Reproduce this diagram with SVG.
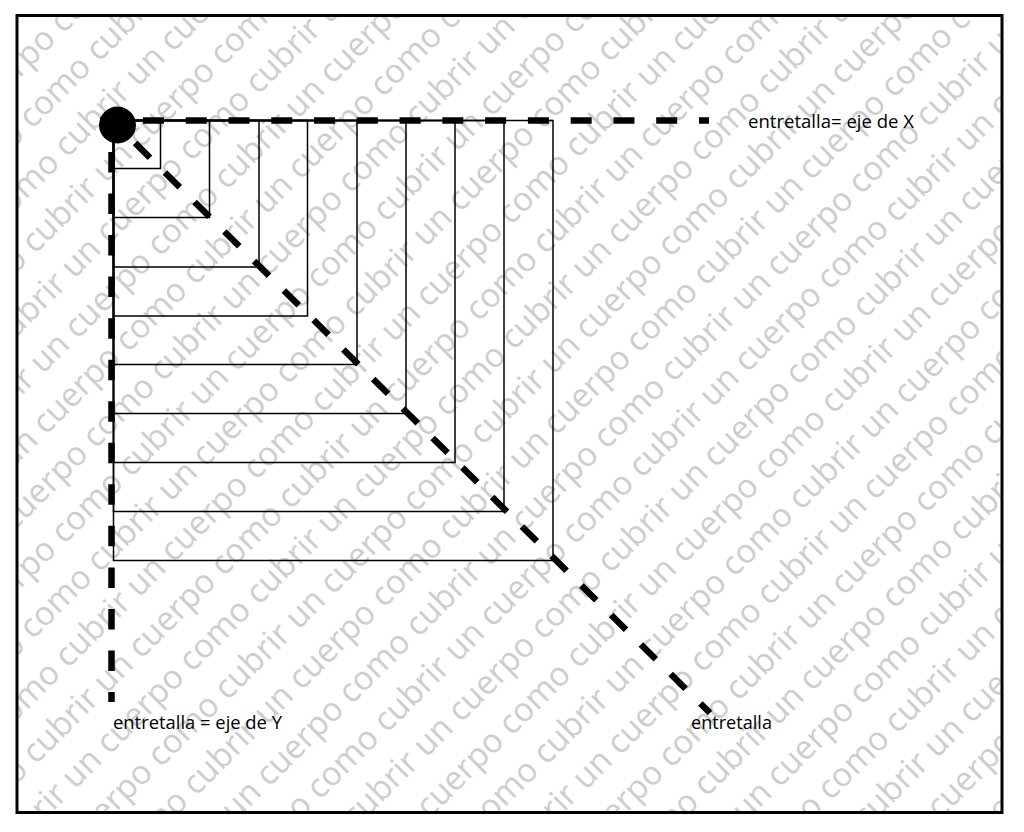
<svg xmlns="http://www.w3.org/2000/svg" width="1024" height="832" viewBox="0 0 1024 832">
<style>
.wm{font-family:"Open Sans","DejaVu Sans",sans-serif;font-size:33px;fill:#cdcdcd}
.sq{fill:none;stroke:#000;stroke-width:1.5}
.ax{fill:none;stroke:#000;stroke-width:6.5}
.lbl{font-family:"Open Sans","Liberation Sans",sans-serif;font-size:18px;fill:#000}
</style>
<defs>
<clipPath id="inner"><rect x="17" y="15.5" width="985" height="797"/></clipPath>
</defs>
<rect x="0" y="0" width="1024" height="832" fill="#fff"/>
<g id="watermark" clip-path="url(#inner)">
<g transform="rotate(-45)">
<text class="wm" x="-971" y="24">como cubrir un cuerpo como cubrir un cuerpo como cubrir un cuerpo como cubrir un cuerpo como cubrir un cuerpo como cubrir un cuerpo</text>
<text class="wm" x="-1061" y="69.2">como cubrir un cuerpo como cubrir un cuerpo como cubrir un cuerpo como cubrir un cuerpo como cubrir un cuerpo como cubrir un cuerpo</text>
<text class="wm" x="-790" y="114.4">como cubrir un cuerpo como cubrir un cuerpo como cubrir un cuerpo como cubrir un cuerpo como cubrir un cuerpo como cubrir un cuerpo</text>
<text class="wm" x="-880" y="159.6">como cubrir un cuerpo como cubrir un cuerpo como cubrir un cuerpo como cubrir un cuerpo como cubrir un cuerpo como cubrir un cuerpo</text>
<text class="wm" x="-971" y="204.8">como cubrir un cuerpo como cubrir un cuerpo como cubrir un cuerpo como cubrir un cuerpo como cubrir un cuerpo como cubrir un cuerpo</text>
<text class="wm" x="-1061" y="250">como cubrir un cuerpo como cubrir un cuerpo como cubrir un cuerpo como cubrir un cuerpo como cubrir un cuerpo como cubrir un cuerpo</text>
<text class="wm" x="-790" y="295.2">como cubrir un cuerpo como cubrir un cuerpo como cubrir un cuerpo como cubrir un cuerpo como cubrir un cuerpo como cubrir un cuerpo</text>
<text class="wm" x="-880" y="340.4">como cubrir un cuerpo como cubrir un cuerpo como cubrir un cuerpo como cubrir un cuerpo como cubrir un cuerpo como cubrir un cuerpo</text>
<text class="wm" x="-971" y="385.6">como cubrir un cuerpo como cubrir un cuerpo como cubrir un cuerpo como cubrir un cuerpo como cubrir un cuerpo como cubrir un cuerpo</text>
<text class="wm" x="-1061" y="430.8">como cubrir un cuerpo como cubrir un cuerpo como cubrir un cuerpo como cubrir un cuerpo como cubrir un cuerpo como cubrir un cuerpo</text>
<text class="wm" x="-790" y="476">como cubrir un cuerpo como cubrir un cuerpo como cubrir un cuerpo como cubrir un cuerpo como cubrir un cuerpo como cubrir un cuerpo</text>
<text class="wm" x="-880" y="521.2">como cubrir un cuerpo como cubrir un cuerpo como cubrir un cuerpo como cubrir un cuerpo como cubrir un cuerpo como cubrir un cuerpo</text>
<text class="wm" x="-971" y="566.4">como cubrir un cuerpo como cubrir un cuerpo como cubrir un cuerpo como cubrir un cuerpo como cubrir un cuerpo como cubrir un cuerpo</text>
<text class="wm" x="-1061" y="611.6">como cubrir un cuerpo como cubrir un cuerpo como cubrir un cuerpo como cubrir un cuerpo como cubrir un cuerpo como cubrir un cuerpo</text>
<text class="wm" x="-790" y="656.8">como cubrir un cuerpo como cubrir un cuerpo como cubrir un cuerpo como cubrir un cuerpo como cubrir un cuerpo como cubrir un cuerpo</text>
<text class="wm" x="-880" y="702">como cubrir un cuerpo como cubrir un cuerpo como cubrir un cuerpo como cubrir un cuerpo como cubrir un cuerpo como cubrir un cuerpo</text>
<text class="wm" x="-971" y="747.2">como cubrir un cuerpo como cubrir un cuerpo como cubrir un cuerpo como cubrir un cuerpo como cubrir un cuerpo como cubrir un cuerpo</text>
<text class="wm" x="-1061" y="792.4">como cubrir un cuerpo como cubrir un cuerpo como cubrir un cuerpo como cubrir un cuerpo como cubrir un cuerpo como cubrir un cuerpo</text>
<text class="wm" x="-790" y="837.6">como cubrir un cuerpo como cubrir un cuerpo como cubrir un cuerpo como cubrir un cuerpo como cubrir un cuerpo como cubrir un cuerpo</text>
<text class="wm" x="-880" y="882.8">como cubrir un cuerpo como cubrir un cuerpo como cubrir un cuerpo como cubrir un cuerpo como cubrir un cuerpo como cubrir un cuerpo</text>
<text class="wm" x="-971" y="928">como cubrir un cuerpo como cubrir un cuerpo como cubrir un cuerpo como cubrir un cuerpo como cubrir un cuerpo como cubrir un cuerpo</text>
<text class="wm" x="-1061" y="973.2">como cubrir un cuerpo como cubrir un cuerpo como cubrir un cuerpo como cubrir un cuerpo como cubrir un cuerpo como cubrir un cuerpo</text>
<text class="wm" x="-790" y="1018.4">como cubrir un cuerpo como cubrir un cuerpo como cubrir un cuerpo como cubrir un cuerpo como cubrir un cuerpo como cubrir un cuerpo</text>
<text class="wm" x="-880" y="1063.6">como cubrir un cuerpo como cubrir un cuerpo como cubrir un cuerpo como cubrir un cuerpo como cubrir un cuerpo como cubrir un cuerpo</text>
<text class="wm" x="-971" y="1108.8">como cubrir un cuerpo como cubrir un cuerpo como cubrir un cuerpo como cubrir un cuerpo como cubrir un cuerpo como cubrir un cuerpo</text>
<text class="wm" x="-1061" y="1154">como cubrir un cuerpo como cubrir un cuerpo como cubrir un cuerpo como cubrir un cuerpo como cubrir un cuerpo como cubrir un cuerpo</text>
<text class="wm" x="-790" y="1199.2">como cubrir un cuerpo como cubrir un cuerpo como cubrir un cuerpo como cubrir un cuerpo como cubrir un cuerpo como cubrir un cuerpo</text>
<text class="wm" x="-880" y="1244.4">como cubrir un cuerpo como cubrir un cuerpo como cubrir un cuerpo como cubrir un cuerpo como cubrir un cuerpo como cubrir un cuerpo</text>
<text class="wm" x="-971" y="1289.6">como cubrir un cuerpo como cubrir un cuerpo como cubrir un cuerpo como cubrir un cuerpo como cubrir un cuerpo como cubrir un cuerpo</text>
</g>
</g>
<g id="frame">
<rect x="17" y="15.5" width="985" height="797" fill="none" stroke="#000" stroke-width="3"/>
</g>
<g id="squares">
<rect class="sq" x="113.5" y="120.5" width="47" height="48"/>
<rect class="sq" x="113.5" y="120.5" width="96" height="97"/>
<rect class="sq" x="113.5" y="120.5" width="145.5" height="146.5"/>
<rect class="sq" x="113.5" y="120.5" width="194" height="195.5"/>
<rect class="sq" x="113.5" y="120.5" width="243.5" height="244"/>
<rect class="sq" x="113.5" y="120.5" width="292.5" height="293"/>
<rect class="sq" x="113.5" y="120.5" width="341.5" height="342"/>
<rect class="sq" x="113.5" y="120.5" width="390.5" height="391"/>
<rect class="sq" x="113.5" y="120.5" width="439.5" height="440"/>
</g>
<g id="connectors">
<line class="ax" x1="100.2" y1="120.5" x2="709" y2="120.5" stroke-dasharray="21 21.77"/>
<line class="ax" x1="111.5" y1="110.46" x2="111.5" y2="702" stroke-dasharray="20.5 21.04"/>
<line class="ax" x1="117" y1="125" x2="710" y2="713" stroke-dasharray="21 20.9" stroke-dashoffset="16.4"/>
</g>
<g id="origin">
<circle cx="117.5" cy="125" r="18.5" fill="#000"/>
</g>
<g id="label-x">
<text class="lbl" x="748" y="127.5" textLength="166" lengthAdjust="spacingAndGlyphs">entretalla= eje de X</text>
</g>
<g id="label-y">
<text class="lbl" x="113" y="728.5" textLength="169" lengthAdjust="spacingAndGlyphs">entretalla = eje de Y</text>
</g>
<g id="label-diag">
<text class="lbl" x="691" y="728.5" textLength="81" lengthAdjust="spacingAndGlyphs">entretalla</text>
</g>
</svg>
